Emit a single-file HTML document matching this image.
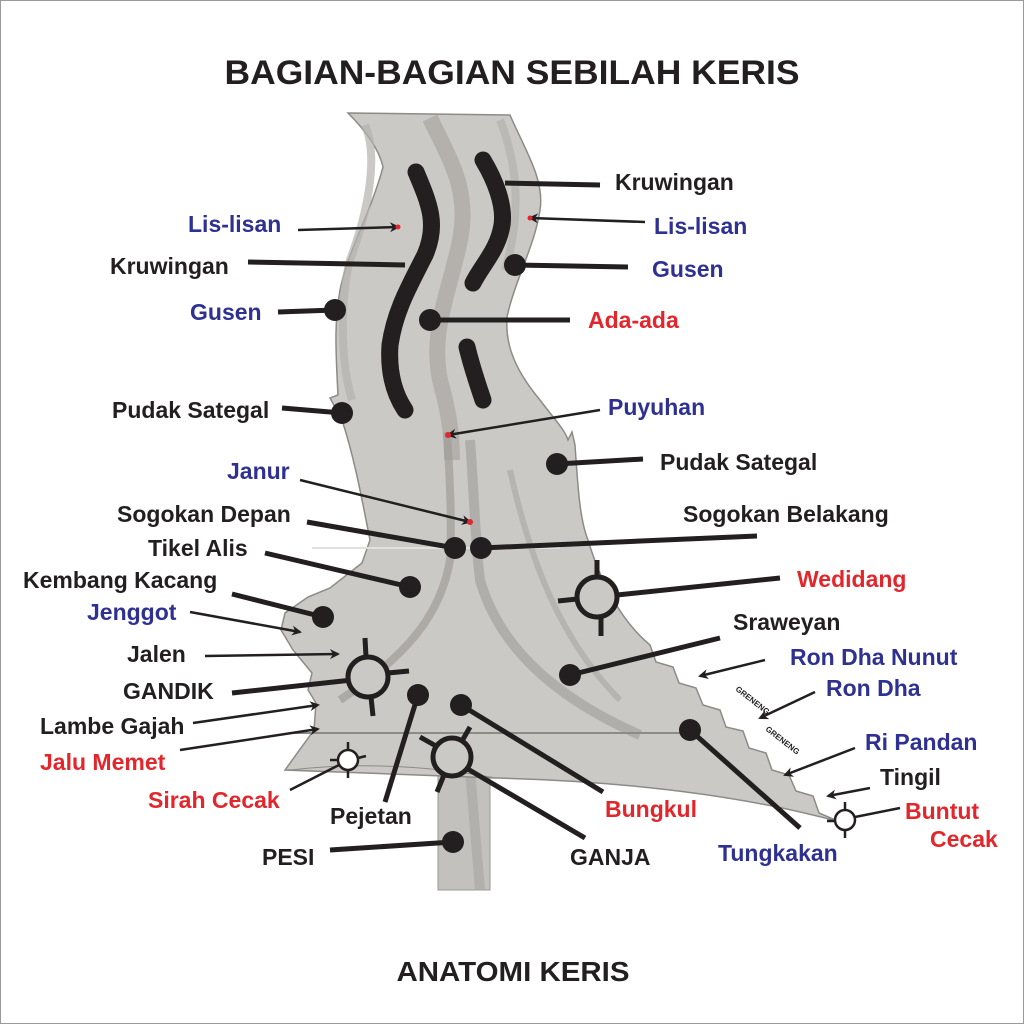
<!DOCTYPE html>
<html><head><meta charset="utf-8"><style>
html,body{margin:0;padding:0;background:#fff}
svg{display:block}
text{font-family:"Liberation Sans",Arial,sans-serif;font-weight:bold}
.k{fill:#231f20}.b{fill:#2e3192}.r{fill:#e3262b}
</style></head><body>
<svg width="1024" height="1024" viewBox="0 0 1024 1024" xmlns="http://www.w3.org/2000/svg">
<defs>
<marker id="ah" markerWidth="10" markerHeight="10" refX="8" refY="5" orient="auto" markerUnits="userSpaceOnUse">
<path d="M0,0 L10,5 L0,10 L3,5 Z" fill="#231f20"/></marker>
</defs>
<rect x="0.5" y="0.5" width="1023" height="1023" fill="#fff" stroke="#9a9a9a"/>
<text x="512" y="84" text-anchor="middle" font-size="34" class="k" textLength="575" lengthAdjust="spacingAndGlyphs">BAGIAN-BAGIAN SEBILAH KERIS</text>
<text x="513" y="981" text-anchor="middle" font-size="28" class="k" textLength="233" lengthAdjust="spacingAndGlyphs">ANATOMI KERIS</text>

<!-- pesi -->
<rect x="438" y="760" width="52" height="130" fill="#c3c1bd" stroke="#9a9894"/>
<path d="M470,770 L480,890" stroke="#a8a6a2" stroke-width="10" opacity=".6"/>
<!-- blade -->
<path d="M348,113 L510,115 C525,150 545,180 540,210 C535,245 515,280 507,317 C505,345 515,370 540,400 C555,420 565,430 568,440 L572,432 L575,445 C578,490 580,520 588,540 C600,580 620,620 650,645
L656,662 L673,667 L679,683 L696,688 L703,705 L720,710 L726,727 L743,731 L749,748 L766,753 L772,770 L789,775 L796,791 L813,796 L819,813 L840,822
C760,800 650,782 496,778 L285,770 L314,730 L316,703 L308,690 L312,673 L293,650 L281,630 L285,613 L308,597 L330,588 L362,563 L370,540 C362,500 355,460 342,420 L330,398 L338,395 C335,340 335,320 340,290 C348,250 370,215 383,167 C378,145 360,125 348,113 Z"
fill="#cbc9c5" stroke="#8d8b87" stroke-width="1.5"/>
<!-- shading -->
<path d="M430,118 C450,160 470,190 460,240 C450,290 430,330 440,380 C448,410 452,430 452,460" fill="none" stroke="#a9a7a3" stroke-width="16" opacity=".7"/>
<path d="M365,125 C380,160 365,220 350,260 C340,300 340,360 352,400" fill="none" stroke="#b4b2ae" stroke-width="8" opacity=".7"/>
<path d="M500,120 C520,170 520,220 505,270" fill="none" stroke="#b4b2ae" stroke-width="8" opacity=".7"/>
<path d="M447,432 C450,480 452,520 450,560 C440,620 400,660 340,700" fill="none" stroke="#9f9d99" stroke-width="8" opacity=".7"/>
<path d="M470,440 C474,490 475,540 480,580 C500,650 560,700 640,735" fill="none" stroke="#9f9d99" stroke-width="10" opacity=".6"/>
<path d="M510,470 C530,560 560,640 620,700" fill="none" stroke="#a9a7a3" stroke-width="6" opacity=".6"/>
<path d="M293,733 L691,733" stroke="#8d8b87" stroke-width="2"/>
<path d="M312,548 L560,548" stroke="#e2e0dc" stroke-width="2"/>
<path d="M290,770 C380,760 450,770 496,778" stroke="#8d8b87" stroke-width="1" fill="none"/>

<!-- kruwingan strokes -->
<g fill="none" stroke="#231f20" stroke-width="17" stroke-linecap="round">
<path d="M416,172 C430,205 438,225 425,255 C410,285 395,310 390,345 C388,375 395,395 405,410"/>
<path d="M483,160 C495,180 505,205 502,225 C498,250 482,265 473,283"/>
<path d="M467,347 C472,368 478,385 483,400"/>
</g>

<!-- thick leaders -->
<g stroke="#231f20" stroke-width="5" fill="none">
<line x1="505" y1="183" x2="600" y2="185"/>
<line x1="515" y1="265" x2="628" y2="267"/>
<line x1="430" y1="320" x2="570" y2="320"/>
<line x1="248" y1="262" x2="405" y2="265"/>
<line x1="278" y1="312" x2="335" y2="310"/>
<line x1="282" y1="408" x2="342" y2="413"/>
<line x1="557" y1="464" x2="643" y2="459"/>
<line x1="307" y1="522" x2="455" y2="548"/>
<line x1="481" y1="548" x2="757" y2="536"/>
<line x1="265" y1="553" x2="410" y2="587"/>
<line x1="232" y1="594" x2="323" y2="617"/>
<line x1="232" y1="693" x2="352" y2="680"/>
<line x1="385" y1="802" x2="418" y2="695"/>
<line x1="330" y1="850" x2="453" y2="842"/>
<line x1="585" y1="838" x2="466" y2="768"/>
<line x1="603" y1="792" x2="461" y2="705"/>
<line x1="780" y1="578" x2="617" y2="595"/>
<line x1="720" y1="638" x2="570" y2="675"/>
<line x1="800" y1="828" x2="690" y2="730"/>
</g>
<g fill="#231f20">
<circle cx="515" cy="265" r="11"/><circle cx="430" cy="320" r="11"/><circle cx="335" cy="310" r="11"/>
<circle cx="342" cy="413" r="11"/><circle cx="557" cy="464" r="11"/><circle cx="455" cy="548" r="11"/>
<circle cx="481" cy="548" r="11"/><circle cx="410" cy="587" r="11"/><circle cx="323" cy="617" r="11"/>
<circle cx="418" cy="695" r="11"/><circle cx="453" cy="842" r="11"/><circle cx="461" cy="705" r="11"/>
<circle cx="570" cy="675" r="11"/><circle cx="690" cy="730" r="11"/>
</g>
<!-- ring markers -->
<g fill="none" stroke="#231f20" stroke-width="5">
<circle cx="597" cy="597" r="20" fill="#cbc9c5"/>
<line x1="597" y1="560" x2="597" y2="577"/><line x1="601" y1="617" x2="601" y2="636"/><line x1="558" y1="601" x2="577" y2="599"/>
<circle cx="368" cy="677" r="20" fill="#cbc9c5"/>
<line x1="365" y1="638" x2="366" y2="657"/><line x1="371" y1="697" x2="373" y2="716"/><line x1="388" y1="673" x2="409" y2="671"/>
<circle cx="452" cy="757" r="19" fill="#cbc9c5"/>
<line x1="420" y1="737" x2="436" y2="746"/><line x1="470" y1="727" x2="462" y2="741"/><line x1="444" y1="775" x2="437" y2="792"/>
</g>
<g fill="#fff" stroke="#231f20" stroke-width="2.5">
<circle cx="348" cy="760" r="10"/><line x1="348" y1="742" x2="348" y2="750" /><line x1="348" y1="770" x2="348" y2="778"/>
<line x1="330" y1="760" x2="338" y2="760"/><line x1="358" y1="758" x2="366" y2="756"/>
<line x1="290" y1="790" x2="339" y2="765"/>
<circle cx="845" cy="820" r="10"/><line x1="845" y1="802" x2="845" y2="810"/><line x1="845" y1="830" x2="845" y2="838"/>
<line x1="827" y1="821" x2="835" y2="821"/><line x1="855" y1="817" x2="900" y2="808"/>
</g>
<!-- arrows -->
<g stroke="#231f20" stroke-width="2.5" marker-end="url(#ah)">
<line x1="645" y1="222" x2="530" y2="218"/>
<line x1="298" y1="230" x2="398" y2="227"/>
<line x1="600" y1="410" x2="448" y2="435"/>
<line x1="300" y1="480" x2="470" y2="522"/>
<line x1="190" y1="612" x2="300" y2="632"/>
<line x1="205" y1="656" x2="338" y2="654"/>
<line x1="193" y1="723" x2="318" y2="705"/>
<line x1="180" y1="750" x2="318" y2="729"/>
<line x1="765" y1="660" x2="700" y2="676"/>
<line x1="815" y1="692" x2="760" y2="718"/>
<line x1="855" y1="748" x2="785" y2="775"/>
<line x1="870" y1="788" x2="828" y2="796"/>
</g>
<circle cx="398" cy="227" r="2.5" fill="#e3262b"/><circle cx="530" cy="218" r="2.5" fill="#e3262b"/>
<circle cx="448" cy="435" r="3" fill="#e3262b"/><circle cx="470" cy="522" r="3" fill="#e3262b"/>

<text x="735" y="690" font-size="8" class="k" transform="rotate(38 735 690)">GRENENG</text>
<text x="765" y="730" font-size="8" class="k" transform="rotate(38 765 730)">GRENENG</text>

<g font-size="23">
<text x="615" y="190" class="k">Kruwingan</text>
<text x="654" y="234" class="b">Lis-lisan</text>
<text x="652" y="277" class="b">Gusen</text>
<text x="588" y="328" class="r">Ada-ada</text>
<text x="188" y="232" class="b">Lis-lisan</text>
<text x="110" y="274" class="k">Kruwingan</text>
<text x="190" y="320" class="b">Gusen</text>
<text x="112" y="418" class="k">Pudak Sategal</text>
<text x="608" y="415" class="b">Puyuhan</text>
<text x="660" y="470" class="k">Pudak Sategal</text>
<text x="227" y="479" class="b">Janur</text>
<text x="117" y="522" class="k">Sogokan Depan</text>
<text x="683" y="522" class="k">Sogokan Belakang</text>
<text x="148" y="556" class="k">Tikel Alis</text>
<text x="23" y="588" class="k">Kembang Kacang</text>
<text x="87" y="620" class="b">Jenggot</text>
<text x="127" y="662" class="k">Jalen</text>
<text x="123" y="699" class="k">GANDIK</text>
<text x="40" y="734" class="k">Lambe Gajah</text>
<text x="40" y="770" class="r">Jalu Memet</text>
<text x="148" y="808" class="r">Sirah Cecak</text>
<text x="330" y="824" class="k">Pejetan</text>
<text x="262" y="865" class="k">PESI</text>
<text x="570" y="865" class="k">GANJA</text>
<text x="605" y="817" class="r">Bungkul</text>
<text x="797" y="587" class="r">Wedidang</text>
<text x="733" y="630" class="k">Sraweyan</text>
<text x="790" y="665" class="b">Ron Dha Nunut</text>
<text x="826" y="696" class="b">Ron Dha</text>
<text x="865" y="750" class="b">Ri Pandan</text>
<text x="880" y="785" class="k">Tingil</text>
<text x="905" y="819" class="r">Buntut</text>
<text x="930" y="847" class="r">Cecak</text>
<text x="718" y="861" class="b">Tungkakan</text>
</g>
</svg>
</body></html>
